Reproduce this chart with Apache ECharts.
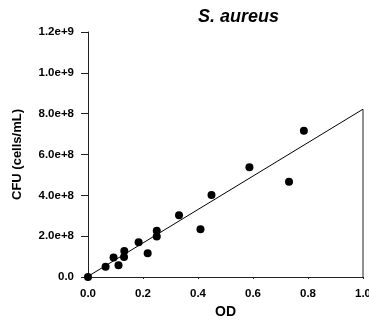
<!DOCTYPE html>
<html>
<head>
<meta charset="utf-8">
<script src="https://cdn.jsdelivr.net/npm/echarts@6/dist/echarts.min.js"></script>
<style>
  html, body { margin: 0; padding: 0; background: #fff; }
  #chart { width: 369px; height: 323px; }
</style>
</head>
<body>
<div id="chart"></div>
<script>
// measured points (OD vs CFU)
const odValues = [0, 0.064, 0.093, 0.111, 0.131, 0.132, 0.184, 0.217, 0.25, 0.25, 0.331, 0.409, 0.449, 0.587, 0.731, 0.785];
const cfuValues = [0, 0.5e8, 0.95e8, 0.57e8, 0.98e8, 1.27e8, 1.70e8, 1.16e8, 1.98e8, 2.27e8, 3.02e8, 2.34e8, 4.02e8, 5.38e8, 4.67e8, 7.16e8];

// regression line end points
const fitX = [0, 1.0];
const fitY = [0.03e8, 8.22e8];

const xTickLabels = ['0.0', '0.2', '0.4', '0.6', '0.8', '1.0'];
const yTickLabels = ['0.0', '2.0e+8', '4.0e+8', '6.0e+8', '8.0e+8', '1.0e+9', '1.2e+9'];

const font = 'Arial, "Liberation Sans", sans-serif';
const chart = echarts.init(document.getElementById('chart'), null, { renderer: 'canvas' });

chart.setOption({
  animation: false,
  title: {
    text: 'S. aureus',
    left: 193,
    top: 3,
    textStyle: { fontFamily: font, fontSize: 18, fontWeight: 'bold', fontStyle: 'italic', color: '#000' }
  },
  grid: { left: 88, right: 6, top: 32, bottom: 46, containLabel: false, outerBoundsMode: 'none' },
  xAxis: {
    type: 'value',
    min: 0, max: 1.0, interval: 0.2,
    name: 'OD',
    nameLocation: 'middle',
    nameGap: 26,
    nameTextStyle: { fontFamily: font, fontSize: 14, fontWeight: 'bold', color: '#000' },
    axisLine: { show: true, onZero: false, lineStyle: { color: '#222', width: 1 } },
    axisTick: { show: true, length: 2, lineStyle: { color: '#222' } },
    axisLabel: {
      margin: 11,
      hideOverlap: false,
      fontFamily: font, fontSize: 11.5, fontWeight: 'bold', color: '#000',
      formatter: (v) => xTickLabels[Math.round(v / 0.2)]
    },
    splitLine: { show: false }
  },
  yAxis: {
    type: 'value',
    min: 0, max: 1.2e9, interval: 2e8,
    name: 'CFU (cells/mL)',
    nameLocation: 'middle',
    nameGap: 64,
    nameTextStyle: { fontFamily: font, fontSize: 13, fontWeight: 'bold', color: '#000' },
    axisLine: { show: true, onZero: false, lineStyle: { color: '#222', width: 1 } },
    axisTick: { show: true, length: 7, lineStyle: { color: '#222' } },
    axisLabel: {
      margin: 14,
      fontFamily: font, fontSize: 11.5, fontWeight: 'bold', color: '#000',
      formatter: (v) => yTickLabels[Math.round(v / 2e8)]
    },
    splitLine: { show: false }
  },
  series: [
    {
      type: 'line',
      data: fitX.map((x, i) => [x, fitY[i]]),
      symbol: 'none',
      lineStyle: { color: '#000', width: 1 },
      z: 2
    },
    {
      // short right-hand edge below the fit line end
      type: 'line',
      data: [[fitX[1], 0], [fitX[1], fitY[1]]],
      symbol: 'none',
      lineStyle: { color: '#222', width: 1 },
      z: 2
    },
    {
      type: 'scatter',
      data: odValues.map((x, i) => [x, cfuValues[i]]),
      symbol: 'circle',
      symbolSize: 8,
      itemStyle: { color: '#000', opacity: 1 },
      z: 3
    }
  ]
});
</script>
</body>
</html>
